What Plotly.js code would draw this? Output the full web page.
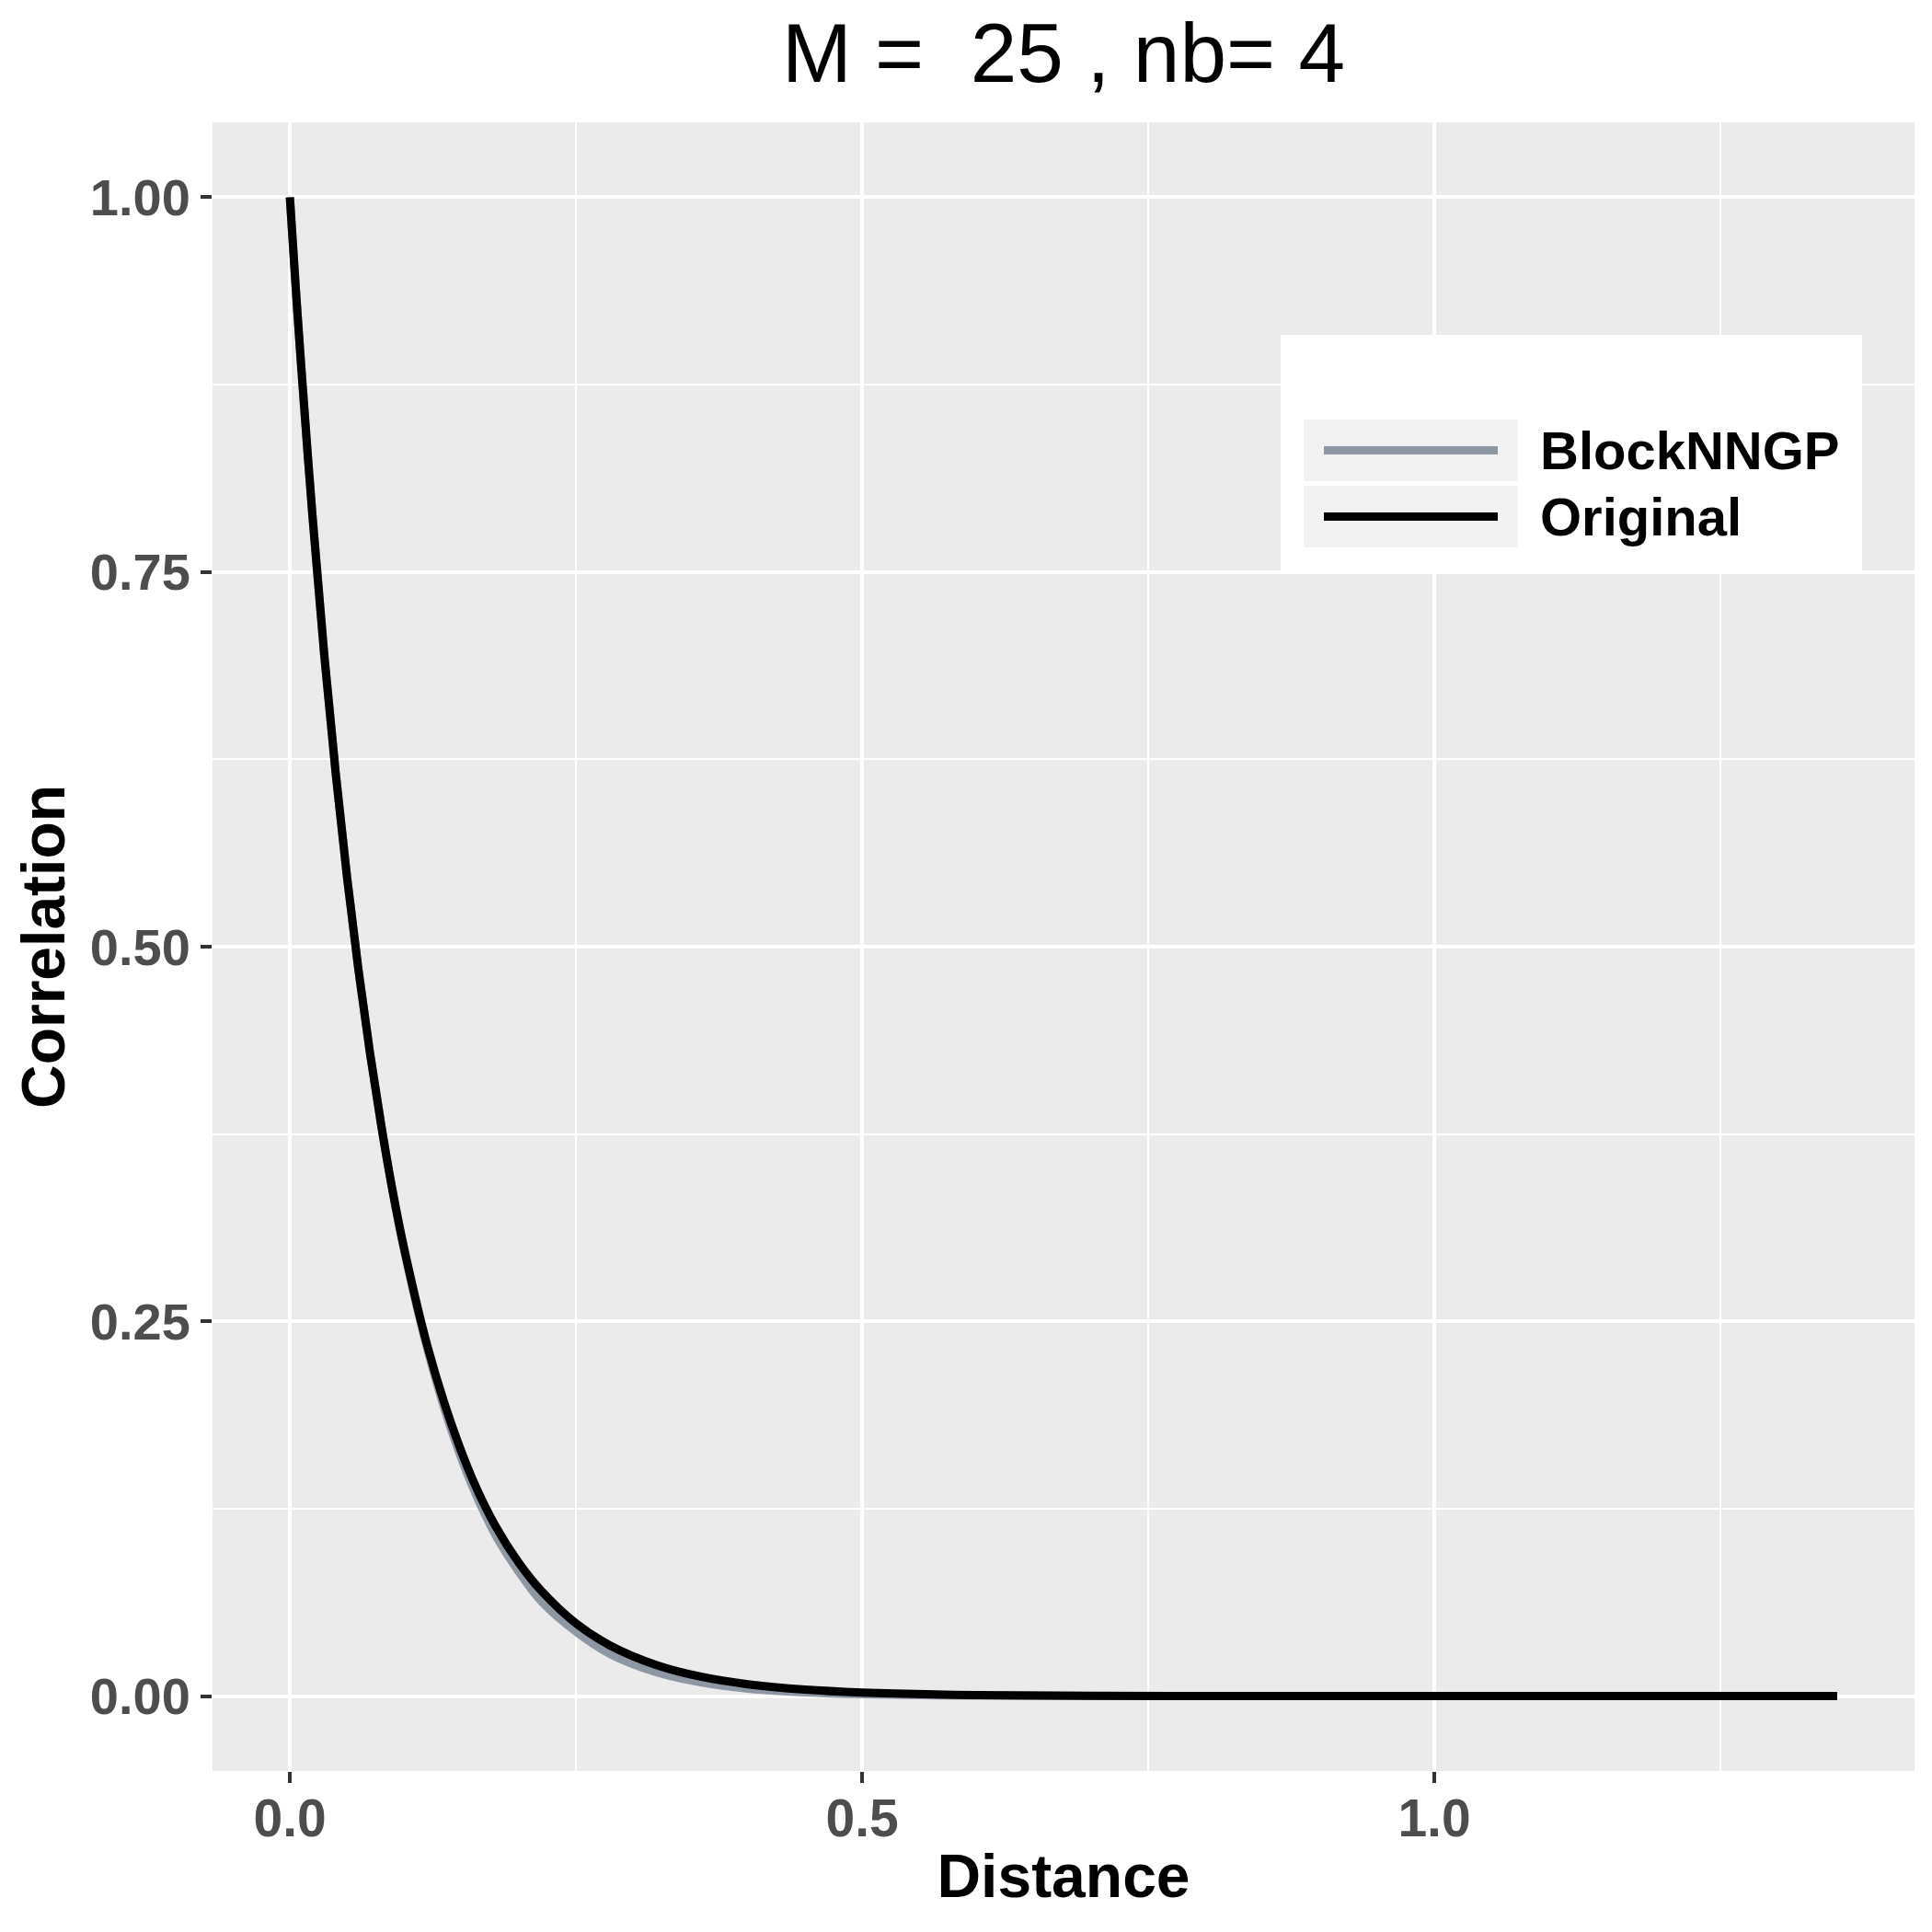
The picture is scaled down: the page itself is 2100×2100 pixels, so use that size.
<!DOCTYPE html>
<html>
<head>
<meta charset="utf-8">
<script src="https://cdn.plot.ly/plotly-3.0.1.min.js"></script>
<style>body{margin:0;background:#fff}</style>
</head>
<body>
<div id="plot" style="width:2100px;height:2100px"></div>
<script>
// values
var distance  = [0, 0.005, 0.01, 0.02, 0.03, 0.04, 0.05, 0.06, 0.07, 0.08, 0.09, 0.10,
                 0.12, 0.14, 0.16, 0.18, 0.20, 0.22, 0.25, 0.28, 0.32, 0.36, 0.40, 0.45,
                 0.50, 0.60, 0.70, 0.85, 1.00, 1.20, 1.352];
var original  = [1.000, 0.941, 0.886, 0.785, 0.695, 0.616, 0.546, 0.484, 0.429, 0.380, 0.336, 0.298,
                 0.234, 0.184, 0.144, 0.113, 0.089, 0.070, 0.0485, 0.0337, 0.0208, 0.0128, 0.0079, 0.0043,
                 0.0024, 0.0007, 0.0002, 0.0000, 0, 0, 0];
var blockNNGP = [1.000, 0.941, 0.886, 0.785, 0.695, 0.616, 0.546, 0.484, 0.429, 0.380, 0.336, 0.297,
                 0.232, 0.180, 0.139, 0.107, 0.083, 0.063, 0.043, 0.028, 0.016, 0.009, 0.005, 0.0025,
                 0.0012, 0.0003, 0.0001, 0, 0, 0, 0];

var seriesNames  = ["BlockNNGP", "Original"];
var seriesColors = ["#8E98A5", "#000000"];
var xTicks = [0, 0.5, 1.0];
var yTicks = [0, 0.25, 0.5, 0.75, 1.0];
var chartTitle = "M =\u00A0 25 , nb= 4";

var W = 2100, H = 2100;
var m = {l: 231, r: 19, t: 133, b: 175};

// pixel -> paper helpers for the hand drawn legend
function px(x) { return (x - m.l) / (W - m.l - m.r); }
function py(y) { return (H - m.b - y) / (H - m.t - m.b); }

var font = "Liberation Sans, Arial, sans-serif";

var traces = [
  {x: distance, y: blockNNGP, name: seriesNames[0], type: "scatter", mode: "lines",
   line: {color: seriesColors[0], width: 9, shape: "spline"}},
  {x: distance, y: original, name: seriesNames[1], type: "scatter", mode: "lines",
   line: {color: seriesColors[1], width: 9, shape: "spline"}}
];

// legend: white box, grey key cells, key lines, labels
var shapes = [
  {type: "rect", xref: "paper", yref: "paper", x0: px(1392), x1: px(2024), y0: py(620), y1: py(364),
   fillcolor: "#FFFFFF", line: {width: 0}, layer: "above"}
];
var annotations = [];
var keyTop = [456, 528];
seriesNames.forEach(function (name, i) {
  var top = keyTop[i], mid = top + 33.5;
  shapes.push({type: "rect", xref: "paper", yref: "paper", x0: px(1417), x1: px(1650),
               y0: py(top + 67), y1: py(top), fillcolor: "#F2F2F2", line: {width: 0}, layer: "above"});
  shapes.push({type: "line", xref: "paper", yref: "paper", x0: px(1439), x1: px(1628),
               y0: py(mid), y1: py(mid), line: {color: seriesColors[i], width: 9}, layer: "above"});
  annotations.push({xref: "paper", yref: "paper", x: px(1672), y: py(mid), xanchor: "left", yanchor: "middle",
                    text: name, showarrow: false,
                    font: {family: font, size: 58, color: "#000000", weight: "bold"}});
});

var layout = {
  width: W, height: H,
  margin: m,
  paper_bgcolor: "#FFFFFF",
  plot_bgcolor: "#EBEBEB",
  showlegend: false,
  title: {text: chartTitle, x: 0.5, xref: "paper", y: 1 - 57 / H, yref: "container", yanchor: "middle",
          font: {family: font, size: 91, color: "#000000"}},
  xaxis: {
    range: [-0.0676, 1.4196], tickvals: xTicks, tickformat: ".1f",
    showgrid: true, gridcolor: "#FFFFFF", gridwidth: 4, zeroline: false, showline: false,
    ticks: "outside", ticklen: 12, tickwidth: 4, tickcolor: "#333333", ticklabelstandoff: -10,
    tickfont: {family: font, size: 57, color: "#4D4D4D", weight: "bold"},
    minor: {tickvals: [0.25, 0.75, 1.25], showgrid: true, gridcolor: "#FFFFFF", gridwidth: 2, ticks: ""},
    title: {text: "Distance", standoff: 8, font: {family: font, size: 66, color: "#000000", weight: "bold"}},
    automargin: false, fixedrange: true
  },
  yaxis: {
    range: [-0.05, 1.05], tickvals: yTicks, tickformat: ".2f",
    showgrid: true, gridcolor: "#FFFFFF", gridwidth: 4, zeroline: false, showline: false,
    ticks: "outside", ticklen: 12, tickwidth: 4, tickcolor: "#333333",
    tickfont: {family: font, size: 56, color: "#4D4D4D", weight: "bold"},
    minor: {tickvals: [0.125, 0.375, 0.625, 0.875], showgrid: true, gridcolor: "#FFFFFF", gridwidth: 2, ticks: ""},
    title: {text: "Correlation", standoff: 5, font: {family: font, size: 66, color: "#000000", weight: "bold"}},
    automargin: false, fixedrange: true
  },
  shapes: shapes,
  annotations: annotations
};

Plotly.newPlot("plot", traces, layout, {displayModeBar: false, staticPlot: true});
</script>
</body>
</html>
